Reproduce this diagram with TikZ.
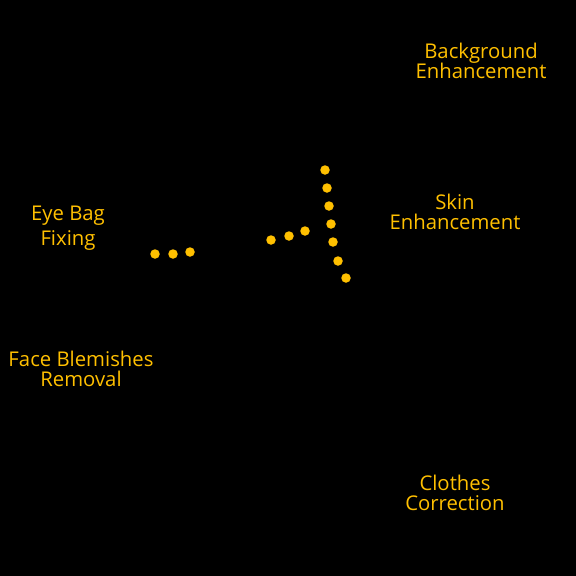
\documentclass[tikz,border=0pt]{standalone}
\usepackage{fontspec}
\setmainfont{Open Sans}
\definecolor{gold}{HTML}{FFC000}
\tikzset{
  lbl/.style={text=gold, align=center, font=\fontsize{20.3}{20.5}\selectfont, inner sep=0pt},
  dot/.style={circle, fill=gold, minimum size=9.5pt, inner sep=0pt}
}
\begin{document}
\begin{tikzpicture}[x=1pt,y=-1pt]
\fill[black] (0,0) rectangle (576,576);
\useasboundingbox (0,0) rectangle (576,576);
\node[lbl] (bg) at (481,61) {Background\\Enhancement};
\node[lbl] (skin) at (455,212) {Skin\\Enhancement};
\node[lbl, font=\fontsize{20.3}{25}\selectfont] (eye) at (68,228) {Eye Bag\\Fixing};
\node[lbl] (face) at (81,369) {Face Blemishes\\Removal};
\node[lbl] (cloth) at (455,493) {Clothes\\Correction};
\node[dot] (l1) at (155,254) {};
\node[dot] (l2) at (173,254) {};
\node[dot] (l3) at (190,252) {};
\node[dot] (m1) at (271,240) {};
\node[dot] (m2) at (289,236) {};
\node[dot] (m3) at (305,231) {};
\node[dot] (v1) at (325,170) {};
\node[dot] (v2) at (327,188) {};
\node[dot] (v3) at (329,206) {};
\node[dot] (v4) at (331,224) {};
\node[dot] (v5) at (333,242) {};
\node[dot] (v6) at (338,261) {};
\node[dot] (v7) at (346,278) {};
\end{tikzpicture}
\end{document}
